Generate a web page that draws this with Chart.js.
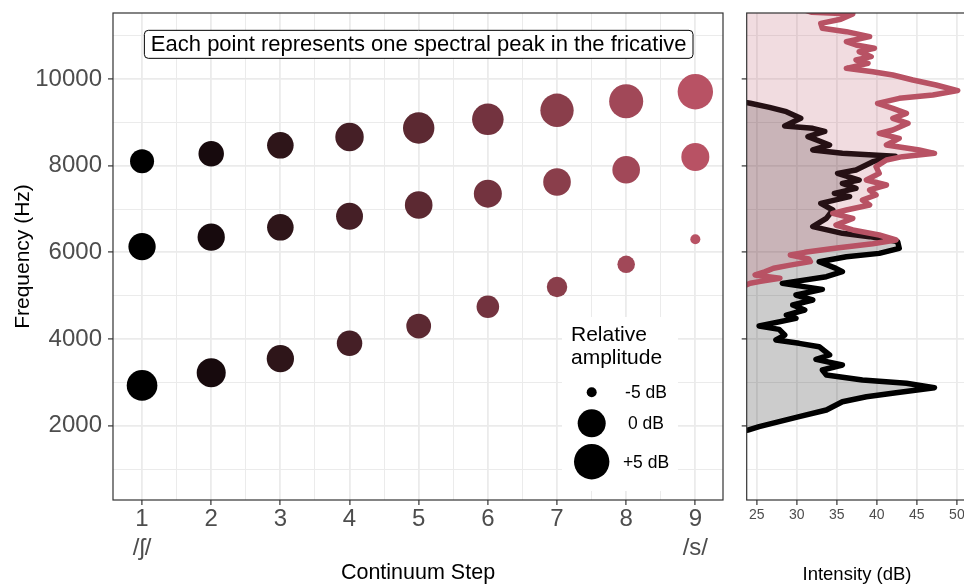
<!DOCTYPE html>
<html>
<head>
<meta charset="utf-8">
<script src="https://cdn.jsdelivr.net/npm/chart.js@4.4.1/dist/chart.umd.min.js"></script>
<style>
  html, body { margin: 0; padding: 0; background: #fff; overflow: hidden; width: 964px; height: 584px; }
  #peaks { position: absolute; left: 0; top: 0; }
  #spectra { position: absolute; left: 735px; top: 0; }
</style>
</head>
<body>
<canvas id="peaks" width="735" height="584"></canvas>
<canvas id="spectra" width="240" height="584"></canvas>
<script>
// continuum steps and the three spectral peaks found at each step
const steps = [1, 2, 3, 4, 5, 6, 7, 8, 9];
const stepEndLabels = { 1: '/ʃ/', 9: '/s/' };
const lowPeakHz  = [2930, 3221, 3545, 3900, 4299, 4743, 5199, 5723, 6300];
const lowPeakDb  = [1.8, 0.7, -0.2, -0.7, -0.9, -1.5, -2.1, -2.9, -5.0];
const midPeakHz  = [6130, 6353, 6578, 6831, 7092, 7353, 7623, 7907, 8200];
const midPeakDb  = [-0.2, -0.2, -0.4, -0.3, -0.1, 0.0, -0.1, -0.1, 0.0];
const highPeakHz = [8101, 8276, 8470, 8662, 8869, 9070, 9278, 9485, 9707];
const highPeakDb = [-1.1, -0.7, -0.4, 0.3, 2.3, 2.4, 3.6, 4.1, 5.0];
const legendBreaksDb = [-5, 0, 5];
const legendLabels = ['-5 dB', '0 dB', '+5 dB'];
const noteText = 'Each point represents one spectral peak in the fricative';

// axis breaks
const freqBreaks = [2000, 4000, 6000, 8000, 10000];
const freqMinorBreaks = [1000, 3000, 5000, 7000, 9000, 11000];
const stepMinorBreaks = [1.5, 2.5, 3.5, 4.5, 5.5, 6.5, 7.5, 8.5];
const dbBreaks = [25, 30, 35, 40, 45, 50];

// spectra of the two continuum endpoints (frequency in Hz, intensity in dB)
const shSpectrumHz = [9480, 9440, 9346, 9246, 9093, 8915, 8862, 8790, 8669, 8477, 8362, 8285, 8220, 8092, 7900,
  7823, 7669, 7592, 7477, 7362, 7285, 7131, 6977, 6785, 6593, 6439, 6362, 6247, 6093, 5976, 5899, 5784, 5630,
  5553, 5438, 5284, 5146, 5015, 4900, 4784, 4669, 4553, 4477, 4300, 4223, 4092, 3977, 3900, 3823, 3631, 3531,
  3400, 3284, 3169, 3054, 2977, 2877, 2762, 2669, 2553, 2361, 2208, 2092, 1977, 1900, 1860];
const shSpectrumDb = [23.0, 24.2, 26.6, 28.7, 30.5, 28.5, 32.0, 33.5, 31.4, 34.1, 32.0, 35.7, 42.3, 39.5, 37.4,
  35.1, 37.8, 35.7, 37.4, 34.7, 36.6, 33.0, 34.5, 33.7, 32.0, 35.7, 39.1, 42.6, 42.8, 40.3, 36.2, 32.8, 34.9,
  35.7, 33.7, 28.2, 33.2, 29.9, 32.0, 29.5, 31.0, 28.7, 29.9, 25.3, 27.8, 28.5, 27.4, 30.3, 32.8, 34.1, 32.4,
  35.7, 33.2, 33.7, 38.2, 43.7, 47.2, 42.4, 38.7, 35.7, 33.7, 30.3, 27.8, 25.3, 23.9, 23.0];
const sSpectrumHz = [11650, 11540, 11500, 11380, 11284, 11169, 11092, 10977, 10861, 10785, 10708, 10631, 10515,
  10438, 10362, 10246, 10169, 10092, 9977, 9862, 9731, 9631, 9554, 9439, 9323, 9208, 9093, 8977, 8823, 8746,
  8631, 8477, 8361, 8285, 8208, 8131, 7977, 7823, 7669, 7554, 7439, 7323, 7208, 7093, 6977, 6900, 6785, 6631,
  6516, 6400, 6285, 6200, 6100, 6000, 5940, 5850, 5786, 5700, 5632, 5550, 5479, 5402, 5330, 5287, 5200];
const sSpectrumDb = [30.0, 31.9, 37.0, 35.5, 33.0, 33.2, 36.2, 39.1, 36.2, 37.4, 39.7, 37.8, 39.3,
  37.4, 38.9, 36.2, 39.5, 42.0, 44.5, 47.4, 50.1, 47.0, 42.8, 40.1, 42.0, 43.7, 42.0, 43.9, 42.0, 40.3,
  42.8, 41.2, 45.3, 47.2, 43.2, 41.2, 39.9, 40.3, 38.7, 41.2, 39.1, 39.9, 38.2, 39.1, 36.2, 34.5, 37.0, 34.9,
  37.0, 40.3, 42.4, 39.5, 35.0, 31.0, 29.2, 31.5, 31.7, 29.0, 27.1, 26.0, 24.8, 27.9, 25.5, 24.2, 23.0];

const freqMin = 285, freqMax = 11523;
const dbMin = 23.75, dbMax = 51.3;

Chart.defaults.font.family = '"Liberation Sans", Arial, sans-serif';
const gridColour = '#EBEBEB';
const inkColour = '#333333';
const tickText = '#4D4D4D';

// colour runs from black (/ʃ/) to rose (/s/)
const lowColour = [0, 0, 0], highColour = [184, 82, 100];
function stepColour(step, alpha = 1) {
  const t = (step - 1) / 8;
  const c = lowColour.map((v, i) => Math.round(v + (highColour[i] - v) * t));
  return `rgba(${c[0]}, ${c[1]}, ${c[2]}, ${alpha})`;
}

// point size from relative amplitude, matched to the legend keys
const sizeStopsPx = [5, 14, 17.7];
function radiusFor(db) {
  if (db <= 0) return sizeStopsPx[0] + (db + 5) / 5 * (sizeStopsPx[1] - sizeStopsPx[0]);
  return sizeStopsPx[1] + db / 5 * (sizeStopsPx[2] - sizeStopsPx[1]);
}

// fixed breaks, major ones get labels and tick marks
function setTicks(major, minor) {
  return scale => {
    scale.ticks = major.concat(minor).sort((a, b) => a - b).map(v => ({ value: v, major: major.includes(v) }));
  };
}
function noPadding(size, key) {
  return scale => {
    scale[key] = size;
    scale.paddingTop = 0; scale.paddingBottom = 0;
    scale.paddingLeft = 0; scale.paddingRight = 0;
  };
}
const majorGrid = {
  color: gridColour,
  lineWidth: c => (c.tick && c.tick.major) ? 1.8 : 1,
  tickLength: 5,
  tickWidth: 1.2,
  tickColor: c => (c.tick && c.tick.major) ? inkColour : 'rgba(0,0,0,0)'
};

const panelBorder = {
  id: 'panelBorder',
  afterDraw(chart) {
    const { ctx, chartArea: a } = chart;
    ctx.save();
    ctx.strokeStyle = inkColour;
    ctx.lineWidth = 1.2;
    ctx.strokeRect(a.left, a.top, a.right - a.left, a.bottom - a.top);
    ctx.restore();
  }
};

// label box at the top and the size legend inside the panel
const peakDecor = {
  id: 'peakDecor',
  afterDatasetsDraw(chart) {
    const { ctx, chartArea: a, scales } = chart;
    ctx.save();
    ctx.font = '22px "Liberation Sans", Arial, sans-serif';
    const tw = ctx.measureText(noteText).width;
    const cx = scales.x.getPixelForValue(5);
    const cy = scales.y.getPixelForValue(10800);
    const bw = tw + 13, bh = 28;
    ctx.beginPath();
    ctx.roundRect(cx - bw / 2, cy - bh / 2, bw, bh, 4);
    ctx.fillStyle = '#fff';
    ctx.fill();
    ctx.strokeStyle = '#000';
    ctx.lineWidth = 1;
    ctx.stroke();
    ctx.fillStyle = '#000';
    ctx.textAlign = 'center';
    ctx.textBaseline = 'middle';
    ctx.fillText(noteText, cx, cy + 1);

    const lx = a.left + 449, ly = a.top + 304;
    ctx.fillStyle = '#fff';
    ctx.fillRect(lx, ly, 116, 174);
    ctx.fillStyle = '#000';
    ctx.font = '21px "Liberation Sans", Arial, sans-serif';
    ctx.textAlign = 'left';
    ctx.textBaseline = 'alphabetic';
    ctx.fillText('Relative', lx + 9, ly + 24);
    ctx.fillText('amplitude', lx + 9, ly + 46.5);
    const keyY = [ly + 75.3, ly + 106.3, ly + 144.7];
    ctx.font = '17.5px "Liberation Sans", Arial, sans-serif';
    ctx.textAlign = 'center';
    ctx.textBaseline = 'middle';
    legendBreaksDb.forEach((db, i) => {
      ctx.beginPath();
      ctx.arc(lx + 29.7, keyY[i], radiusFor(db), 0, Math.PI * 2);
      ctx.fill();
      ctx.fillText(legendLabels[i], lx + 84, keyY[i] + 1);
    });
    ctx.restore();
  }
};

const peakSets = [
  { hz: lowPeakHz, db: lowPeakDb },
  { hz: midPeakHz, db: midPeakDb },
  { hz: highPeakHz, db: highPeakDb }
];

new Chart(document.getElementById('peaks'), {
  type: 'bubble',
  data: {
    datasets: peakSets.map(p => ({
      data: steps.map((s, i) => ({ x: s, y: p.hz[i], r: radiusFor(p.db[i]) })),
      backgroundColor: steps.map(s => stepColour(s)),
      borderWidth: 0,
      hoverRadius: 0
    }))
  },
  options: {
    responsive: false,
    animation: false,
    events: [],
    layout: { autoPadding: false, padding: { top: 13, right: 12, left: 0, bottom: 0 } },
    plugins: { legend: { display: false }, tooltip: { enabled: false } },
    scales: {
      x: {
        type: 'linear', min: 0.58, max: 9.4,
        afterBuildTicks: setTicks(steps, stepMinorBreaks),
        afterFit: noPadding(84, 'height'),
        border: { display: false },
        grid: majorGrid,
        ticks: {
          autoSkip: false, maxRotation: 0,
          padding: 0, color: tickText, font: { size: 24, lineHeight: 1.2 },
          callback: v => steps.includes(v) ? (stepEndLabels[v] ? [String(v), stepEndLabels[v]] : String(v)) : ''
        },
        title: { display: true, text: 'Continuum Step', color: '#000', font: { size: 21.5, lineHeight: 1 }, padding: 0 }
      },
      y: {
        type: 'linear', min: freqMin, max: freqMax,
        afterBuildTicks: setTicks(freqBreaks, freqMinorBreaks),
        afterFit: noPadding(113, 'width'),
        border: { display: false },
        grid: majorGrid,
        ticks: {
          autoSkip: false,
          padding: 6, color: tickText, font: { size: 24 },
          callback: v => freqBreaks.includes(v) ? String(v) : ''
        },
        title: { display: true, text: 'Frequency (Hz)', color: '#000', font: { size: 21, lineHeight: 1 }, padding: 13 }
      }
    }
  },
  plugins: [peakDecor, panelBorder]
});

function spectrumPoints(hz, db) {
  return hz.map((f, i) => ({ x: db[i], y: f }));
}

new Chart(document.getElementById('spectra'), {
  type: 'line',
  data: {
    datasets: [
      { data: spectrumPoints(sSpectrumHz, sSpectrumDb), borderColor: stepColour(9), backgroundColor: stepColour(9, 0.2), order: 1 },
      { data: spectrumPoints(shSpectrumHz, shSpectrumDb), borderColor: stepColour(1), backgroundColor: stepColour(1, 0.2), order: 2 }
    ].map(d => Object.assign(d, {
      fill: { value: dbMin }, borderWidth: 5.5, pointRadius: 0, tension: 0, clip: 0,
      borderJoinStyle: 'round', borderCapStyle: 'round'
    }))
  },
  options: {
    indexAxis: 'y',
    responsive: false,
    animation: false,
    events: [],
    layout: { autoPadding: false, padding: { top: 13, right: 7.7, left: 0, bottom: 0 } },
    plugins: { legend: { display: false }, tooltip: { enabled: false } },
    scales: {
      x: {
        type: 'linear', position: 'bottom', min: dbMin, max: dbMax,
        afterBuildTicks: setTicks(dbBreaks, []),
        afterFit: noPadding(84, 'height'),
        border: { display: false },
        grid: majorGrid,
        ticks: { autoSkip: false, maxRotation: 0, padding: 1.3, color: tickText, font: { size: 14 } },
        title: { display: true, text: 'Intensity (dB)', color: '#000', font: { size: 18.5, lineHeight: 1 }, padding: 0 }
      },
      y: {
        type: 'linear', position: 'left', min: freqMin, max: freqMax,
        afterBuildTicks: setTicks(freqBreaks, freqMinorBreaks),
        afterFit: noPadding(11.7, 'width'),
        border: { display: false },
        grid: majorGrid,
        ticks: { autoSkip: false, callback: () => '' }
      }
    }
  },
  plugins: [panelBorder]
});
</script>
</body>
</html>
